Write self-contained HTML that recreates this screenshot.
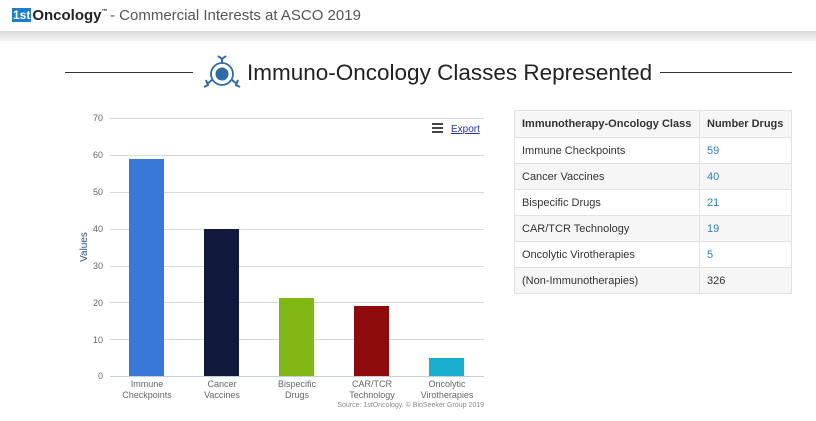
<!DOCTYPE html>
<html><head><meta charset="utf-8"><style>
body{margin:0;width:816px;height:421px;background:#fff;font-family:"Liberation Sans",sans-serif;position:relative;overflow:hidden}
.hdr{position:absolute;left:0;top:0;width:816px;height:32px;background:#fff}
.band{position:absolute;left:0;top:31px;width:816px;height:10px;background:linear-gradient(#d8d8d8,#f4f4f4)}
.logo{position:absolute;left:12px;top:7px;font-size:15px;font-weight:bold;color:#222}
.logo b{background:#1a7fd0;color:#fff;font-size:12px;padding:0 1px;margin-right:1px;vertical-align:1px}
.sub{position:absolute;left:110px;top:7px;font-size:15px;color:#555}
.title{position:absolute;left:247px;top:60px;font-size:22.5px;color:#222}
.ln{position:absolute;height:1px;background:#333;top:72px}
table{position:absolute;left:514px;top:110px;width:278px;border-collapse:collapse;font-size:11px;color:#333}
td{border:1px solid #e2e2e2;height:25px;padding:0 7px}
tr:nth-child(odd) td{background:#f6f6f6}
th{border:1px solid #e2e2e2;height:26px;padding:0 7px;text-align:left;font-size:11px;background:#f6f6f6}
.b{color:#2a7fc4}
</style></head><body>
<div class="hdr"></div><div class="band"></div>
<div class="logo"><b>1st</b>Oncology<span style="font-size:6px;vertical-align:7px">™</span></div>
<div class="sub">- Commercial Interests at ASCO 2019</div>
<div class="ln" style="left:65px;width:128px"></div>
<div class="ln" style="left:660px;width:132px"></div>
<svg style="position:absolute;left:203px;top:54px" width="38" height="38" viewBox="0 0 38 38">
<circle cx="19" cy="20" r="11" fill="none" stroke="#2d6aa8" stroke-width="1.8"/>
<circle cx="19" cy="20" r="6.5" fill="#2d6aa8"/>
<path d="M19 9 L19 4 M15 2 L19 5 L23 2 M9 26 L4 30 M3 26 L5 31 L1 33 M29 26 L34 30 M35 26 L33 31 L37 33" stroke="#2d6aa8" stroke-width="2" fill="none"/>
</svg>
<div class="title">Immuno-Oncology Classes Represented</div>
<svg style="position:absolute;left:0;top:0" width="816" height="421" font-family="Liberation Sans,sans-serif">
<g stroke="#d8d8d8" stroke-width="1">
<line x1="110" x2="484" y1="118.5" y2="118.5"/><line x1="110" x2="484" y1="155.5" y2="155.5"/>
<line x1="110" x2="484" y1="192.5" y2="192.5"/><line x1="110" x2="484" y1="229.5" y2="229.5"/>
<line x1="110" x2="484" y1="266.5" y2="266.5"/><line x1="110" x2="484" y1="302.5" y2="302.5"/>
<line x1="110" x2="484" y1="339.5" y2="339.5"/></g>
<line x1="110" x2="484" y1="376.5" y2="376.5" stroke="#c0d0e0"/>
<g font-size="9" fill="#666" text-anchor="end">
<text x="103" y="121">70</text><text x="103" y="158">60</text><text x="103" y="195">50</text><text x="103" y="232">40</text><text x="103" y="269">30</text><text x="103" y="306">20</text><text x="103" y="343">10</text><text x="103" y="379">0</text></g>
<text transform="translate(87,247) rotate(-90)" font-size="10" fill="#2d4f80" text-anchor="middle">Values</text>
<rect x="129" y="159" width="35" height="217" fill="#3a78d8"/>
<rect x="204" y="229" width="35" height="147" fill="#0f1a3c"/>
<rect x="279" y="298" width="35" height="78" fill="#82b814"/>
<rect x="354" y="306" width="35" height="70" fill="#8e0b0b"/>
<rect x="429" y="358" width="35" height="18" fill="#1aaecf"/>
<g font-size="9" fill="#666" text-anchor="middle">
<text x="147" y="387">Immune</text><text x="147" y="398">Checkpoints</text>
<text x="222" y="387">Cancer</text><text x="222" y="398">Vaccines</text>
<text x="297" y="387">Bispecific</text><text x="297" y="398">Drugs</text>
<text x="372" y="387">CAR/TCR</text><text x="372" y="398">Technology</text>
<text x="447" y="387">Oncolytic</text><text x="447" y="398">Virotherapies</text></g>
<text x="484" y="407" font-size="7" fill="#888" text-anchor="end">Source: 1stOncology. © BioSeeker Group 2019</text>
<g fill="#444"><rect x="432" y="123" width="11" height="2"/><rect x="432" y="127" width="11" height="2"/><rect x="432" y="131" width="11" height="2"/></g>
<text x="451" y="132" font-size="10" fill="#2233aa" text-decoration="underline">Export</text>
</svg>
<table>
<tr><th>Immunotherapy-Oncology Class</th><th style="width:77px">Number Drugs</th></tr>
<tr><td>Immune Checkpoints</td><td class="b">59</td></tr>
<tr><td>Cancer Vaccines</td><td class="b">40</td></tr>
<tr><td>Bispecific Drugs</td><td class="b">21</td></tr>
<tr><td>CAR/TCR Technology</td><td class="b">19</td></tr>
<tr><td>Oncolytic Virotherapies</td><td class="b">5</td></tr>
<tr><td>(Non-Immunotherapies)</td><td>326</td></tr>
</table>
</body></html>
